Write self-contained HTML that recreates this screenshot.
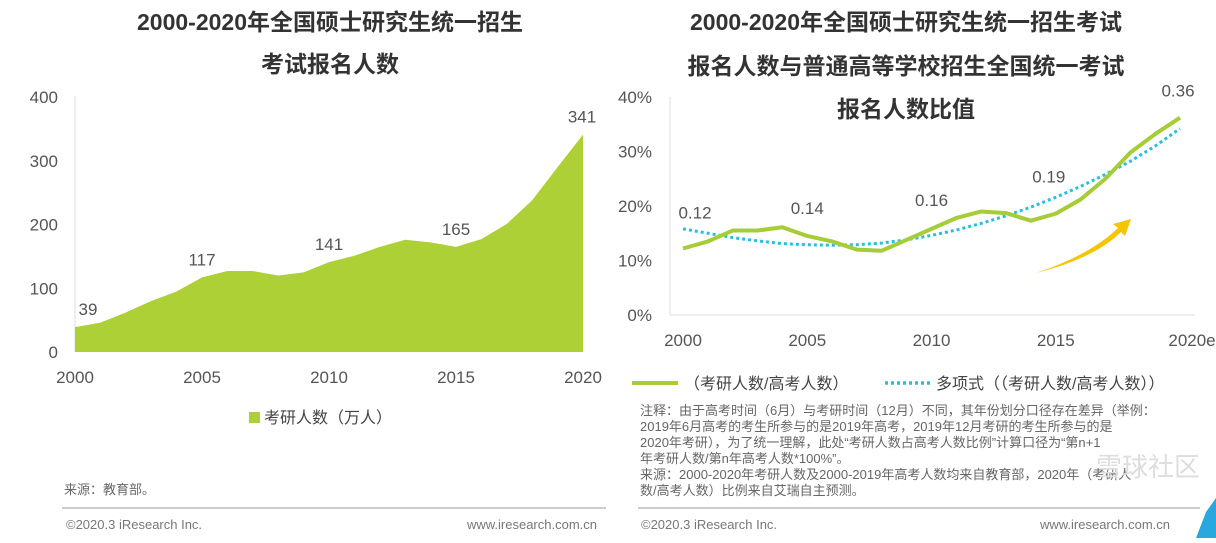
<!DOCTYPE html>
<html><head><meta charset="utf-8"><style>
body{margin:0;width:1216px;height:538px;background:#fff;overflow:hidden;font-family:"Liberation Sans","Noto Sans CJK SC",sans-serif;}
svg text{font-family:"Liberation Sans","Noto Sans CJK SC",sans-serif;}
</style></head><body>
<svg width="1216" height="538">
<g font-size="23" font-weight="bold" fill="#333" text-anchor="middle">
<text x="330" y="30">2000-2020年全国硕士研究生统一招生</text>
<text x="330" y="72">考试报名人数</text></g>
<g font-size="23" font-weight="bold" fill="#333" text-anchor="middle">
<text x="906" y="30">2000-2020年全国硕士研究生统一招生考试</text>
<text x="906" y="74">报名人数与普通高等学校招生全国统一考试</text>
<text x="906" y="117">报名人数比值</text></g>
<g id="left"></g>
<g id="right"></g>
<rect x="249" y="412" width="11" height="11" fill="#acd036"/>
<text x="264" y="423" font-size="16" fill="#444">考研人数（万人）</text>
<g>
<line x1="632" y1="383" x2="678" y2="383" stroke="#a6cc38" stroke-width="4"/>
<text x="684" y="389" font-size="16" fill="#444">（考研人数/高考人数）</text>
<line x1="885" y1="383" x2="930" y2="383" stroke="#25c0dd" stroke-width="3.5" stroke-dasharray="3,3"/>
<text x="936" y="389" font-size="16" fill="#444">多项式（（考研人数/高考人数））</text></g>
<g font-size="13" fill="#666">
<text x="640" y="415">注释：由于高考时间（6月）与考研时间（12月）不同，其年份划分口径存在差异（举例：</text>
<text x="640" y="431">2019年6月高考的考生所参与的是2019年高考，2019年12月考研的考生所参与的是</text>
<text x="640" y="447">2020年考研），为了统一理解，此处“考研人数占高考人数比例”计算口径为“第n+1</text>
<text x="640" y="463">年考研人数/第n年高考人数*100%”。</text>
<text x="640" y="479">来源：2000-2020年考研人数及2000-2019年高考人数均来自教育部，2020年（考研人</text>
<text x="640" y="495">数/高考人数）比例来自艾瑞自主预测。</text></g>
<text x="64" y="494" font-size="13" fill="#666">来源：教育部。</text>
<line x1="62" y1="508" x2="606" y2="508" stroke="#999"/>
<line x1="638" y1="508" x2="1200" y2="508" stroke="#999"/>
<g font-size="13" fill="#777">
<text x="66" y="529">©2020.3 iResearch Inc.</text>
<text x="597" y="529" text-anchor="end">www.iresearch.com.cn</text>
<text x="641" y="529">©2020.3 iResearch Inc.</text>
<text x="1170" y="529" text-anchor="end">www.iresearch.com.cn</text></g>
<text x="1200" y="476" font-size="26" fill="#ddd" text-anchor="end">雪球社区</text>
<polygon points="1216,498 1216,538 1196,538 1206,512" fill="#29a8e0"/>
<path d="M1036,273 Q1090,255 1118,228 L1113,224 L1131,219 L1125,236 L1121,232 Q1095,258 1036,273Z" fill="#f5c500"/>
</svg>
<script>
const years=[2000,2001,2002,2003,2004,2005,2006,2007,2008,2009,2010,2011,2012,2013,2014,2015,2016,2017,2018,2019,2020];
const applicants=[39,46,62,80,95,117,127,127,120,125,141,151,165,176,172,165,177,201,238,290,341];
const labelYears=[2000,2005,2010,2015,2020];
const leftTicks=[0,100,200,300,400];
const ratio=[12.2,13.5,15.5,15.5,16.1,14.5,13.5,12.0,11.8,13.8,15.8,17.8,19.0,18.7,17.3,18.6,21.2,25.0,29.8,33.2,36.2];
const trend=[15.8,15.0,14.2,13.6,13.1,12.9,12.8,12.9,13.2,13.8,14.6,15.6,16.8,18.2,19.8,21.6,23.6,25.8,28.2,31.0,34.2];
const rightTicks=[0,10,20,30,40];
const rightLabels=["0.12","0.14","0.16","0.19","0.36"];
const rightXLabels=["2000","2005","2010","2015","2020e"];
const NS="http://www.w3.org/2000/svg";
function mk(p,t,a){const e=document.createElementNS(NS,t);for(const k in a)e.setAttribute(k,a[k]);p.appendChild(e);return e;}
// left
const L=document.getElementById('left');
const lx=y=>75+(y-2000)/20*508, ly=v=>352-v/400*255;
mk(L,'line',{x1:75,y1:96,x2:75,y2:352,stroke:'#ddd'});
leftTicks.forEach(t=>{const e=mk(L,'text',{x:58,y:ly(t)+6,'font-size':17,fill:'#555','text-anchor':'end'});e.textContent=t;

});
let d='M'+lx(2000)+','+ly(0);years.forEach((y,i)=>d+=' L'+lx(y)+','+ly(applicants[i]));d+=' L'+lx(2020)+','+ly(0)+'Z';
const area=mk(L,'path',{d:d,fill:'#acd036'});


labelYears.forEach(y=>{const i=years.indexOf(y);
const t=mk(L,'text',{x:lx(y),y:383,'font-size':17,fill:'#555','text-anchor':'middle'});t.textContent=y;


const v=mk(L,'text',{x:i==0?lx(y)+13:i==20?lx(y)-1:lx(y),y:ly(applicants[i])-12,'font-size':17,fill:'#555','text-anchor':'middle'});v.textContent=applicants[i];

});
// right
const R=document.getElementById('right');
const rx=y=>683+(y-2000)/20*497, ry=v=>315-v/40*218;
mk(R,'line',{x1:670,y1:97,x2:670,y2:315,stroke:'#ddd'});
mk(R,'line',{x1:670,y1:315,x2:1195,y2:315,stroke:'#ddd'});
rightTicks.forEach(t=>{const e=mk(R,'text',{x:652,y:ry(t)+6,'font-size':17,fill:'#555','text-anchor':'end'});e.textContent=t+'%';

});
labelYears.forEach((y,k)=>{const t=mk(R,'text',{x:rx(y)+(k==4?12:0),y:346,'font-size':17,fill:'#555','text-anchor':'middle'});t.textContent=rightXLabels[k];

});
const tl=mk(R,'polyline',{points:years.map((y,i)=>rx(y)+','+ry(trend[i])).join(' '),fill:'none',stroke:'#25c0dd','stroke-width':3,'stroke-dasharray':'3,3'});


const rl=mk(R,'polyline',{points:years.map((y,i)=>rx(y)+','+ry(ratio[i])).join(' '),fill:'none',stroke:'#a6cc38','stroke-width':4,'stroke-linejoin':'round'});


labelYears.forEach((y,k)=>{const i=years.indexOf(y);
const off=[-30,-22,-23,-31,-21][k];
const t=mk(R,'text',{x:rx(y)+(k==0?12:k==3?-7:k==4?-2:0),y:ry(ratio[i])+off,'font-size':17,fill:'#555','text-anchor':'middle'});t.textContent=rightLabels[k];

});
</script>
</body></html>
